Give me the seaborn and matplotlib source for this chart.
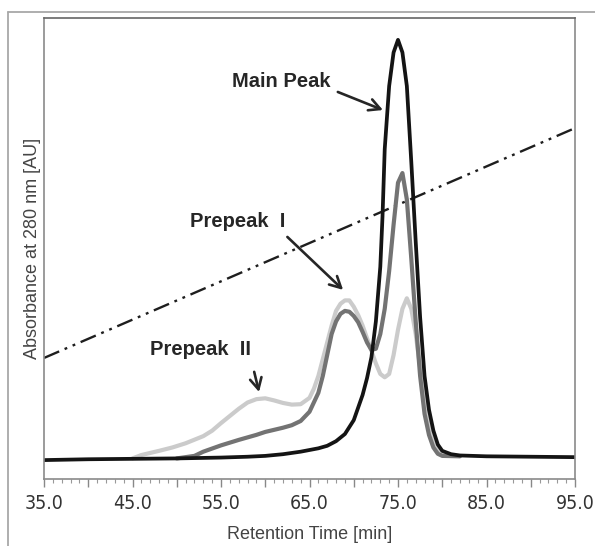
import matplotlib
matplotlib.use("Agg")
import matplotlib.pyplot as plt
import matplotlib.ticker as mticker
from matplotlib.lines import Line2D
import seaborn as sns
import numpy as np

# ---------------- data ----------------
main_x = [35, 40, 45, 50, 55, 58, 60, 62, 64, 65, 66, 67, 68, 69, 70, 70.5, 71, 71.5,
          72, 72.5, 73, 73.25, 73.5, 74, 74.5, 75, 75.5, 76, 76.5, 77, 77.5, 78, 78.5,
          79, 79.5, 80, 81, 82, 85, 90, 95]
main_y = [0.0, 0.002, 0.003, 0.004, 0.006, 0.008, 0.010, 0.014, 0.020, 0.024, 0.028, 0.034,
          0.045, 0.062, 0.095, 0.125, 0.155, 0.195, 0.245, 0.33, 0.46, 0.58, 0.74, 0.89,
          0.97, 1.0, 0.97, 0.89, 0.71, 0.52, 0.34, 0.20, 0.12, 0.07, 0.037, 0.022, 0.014,
          0.011, 0.009, 0.008, 0.007]

mid_x = [50, 52, 53, 55, 57, 59, 60, 61, 62, 63, 64, 65, 66, 66.5, 67, 67.5, 68, 68.5, 69,
         69.5, 70, 70.5, 71, 71.5, 72, 72.5, 73, 73.5, 74, 74.5, 75, 75.5, 76, 76.5, 77,
         77.5, 78, 78.5, 79, 79.5, 80, 82]
mid_y = [0.004, 0.010, 0.020, 0.035, 0.048, 0.060, 0.067, 0.072, 0.077, 0.083, 0.093, 0.115,
         0.160, 0.200, 0.250, 0.300, 0.330, 0.348, 0.355, 0.353, 0.343, 0.328, 0.305, 0.280,
         0.262, 0.265, 0.300, 0.360, 0.450, 0.560, 0.660, 0.683, 0.620, 0.480, 0.330, 0.200,
         0.110, 0.060, 0.030, 0.015, 0.010, 0.009]

light_x = [45, 46, 48, 49.5, 51, 53, 54, 55, 56, 57, 58, 59, 60, 61, 62, 63, 64, 65, 65.5,
           66, 66.5, 67, 67.5, 68, 68.5, 69, 69.5, 70, 70.5, 71, 71.5, 72, 72.5, 73, 73.5,
           74, 74.5, 75, 75.5, 76, 76.5, 77, 77.5, 78, 78.5, 79, 79.5, 80, 81]
light_y = [0.004, 0.012, 0.022, 0.030, 0.040, 0.057, 0.070, 0.088, 0.105, 0.122, 0.137, 0.145,
           0.147, 0.142, 0.136, 0.132, 0.133, 0.148, 0.170, 0.200, 0.240, 0.280, 0.320, 0.355,
           0.372, 0.380, 0.380, 0.365, 0.345, 0.320, 0.290, 0.260, 0.230, 0.205, 0.197, 0.205,
           0.250, 0.310, 0.360, 0.385, 0.360, 0.300, 0.220, 0.140, 0.090, 0.050, 0.025, 0.014,
           0.010]

grad_x = [35, 95]
grad_y = [0.243, 0.79]

x_ticks_major = [35, 40, 45, 50, 55, 60, 65, 70, 75, 80, 85, 90, 95]
x_tick_labels = ["35.0", "", "45.0", "", "55.0", "", "65.0", "", "75.0", "", "85.0", "", "95.0"]

labels = ["Main Peak", "Prepeak  I", "Prepeak  II"]
label_pos = [(61.8, 0.902), (56.9, 0.567), (52.7, 0.262)]
arrow_from = [(68.2, 0.876), (62.5, 0.531), (58.75, 0.21)]
arrow_to = [(73.3, 0.833), (68.8, 0.405), (59.3, 0.162)]

# ---------------- figure ----------------
sns.set_style("white")
plt.rcParams["font.family"] = ["Liberation Sans", "DejaVu Sans"]

fig = plt.figure(figsize=(5.95, 5.46), dpi=100)
fig.patch.set_facecolor("white")
ax = fig.add_axes([44 / 595, 67 / 546, 531 / 595, 461 / 546])

# outer frame lines
fig.add_artist(Line2D([8 / 595, 8 / 595], [0, 1 - 12 / 546], transform=fig.transFigure,
                      color="#a8a8a8", lw=1.3))
fig.add_artist(Line2D([8 / 595, 1], [1 - 12 / 546, 1 - 12 / 546], transform=fig.transFigure,
                      color="#a8a8a8", lw=1.3))

sns.lineplot(x=grad_x, y=grad_y, ax=ax, color="#1e1e1e", lw=1.7,
             dashes=False, estimator=None)
ax.lines[-1].set_dashes([7, 2.5, 1.2, 2.5, 1.2, 2.5])
sns.lineplot(x=light_x, y=light_y, ax=ax, color="#cbcbcb", lw=3.0, estimator=None)
sns.lineplot(x=mid_x, y=mid_y, ax=ax, color="#737373", lw=3.0, estimator=None)
sns.lineplot(x=main_x, y=main_y, ax=ax, color="#141414", lw=2.7, estimator=None)

for txt, (tx, ty), (fx, fy), (ex, ey) in zip(labels, label_pos, arrow_from, arrow_to):
    ax.text(tx, ty, txt, ha="center", va="center", fontsize=14.5, fontweight="bold",
            color="#262626")
    ax.annotate("", xy=(ex, ey), xytext=(fx, fy),
                arrowprops=dict(arrowstyle="->,head_length=0.8,head_width=0.42",
                                lw=1.9, color="#262626", shrinkA=0, shrinkB=0))

ax.set_xlim(35, 95)
ax.set_ylim(-0.045, 1.052)
ax.set_yticks([])
ax.xaxis.set_major_locator(mticker.FixedLocator(x_ticks_major))
ax.xaxis.set_major_formatter(mticker.FixedFormatter(x_tick_labels))
ax.xaxis.set_minor_locator(mticker.MultipleLocator(1))
ax.tick_params(axis="x", which="major", direction="out", length=6, width=1,
               color="#888888", bottom=True, pad=5)
ax.tick_params(axis="x", which="minor", direction="out", length=3, width=0.8,
               color="#999999", bottom=True)
for lab in ax.get_xticklabels():
    lab.set_fontfamily(["Liberation Sans Narrow", "DejaVu Sans"])
    lab.set_fontstretch("condensed")
    lab.set_fontsize(14)
    lab.set_color("#333333")

for side, sp in ax.spines.items():
    sp.set_visible(True)
    sp.set_color("#8a8a8a")
    sp.set_linewidth(1.2)
ax.spines["top"].set_color("#666666")

ax.set_xlabel("Retention Time [min]", fontsize=13, color="#444444", labelpad=9)
ax.set_ylabel("Absorbance at 280 nm [AU]", fontsize=13, color="#444444", labelpad=2)

fig.savefig("out.png", dpi=100)
